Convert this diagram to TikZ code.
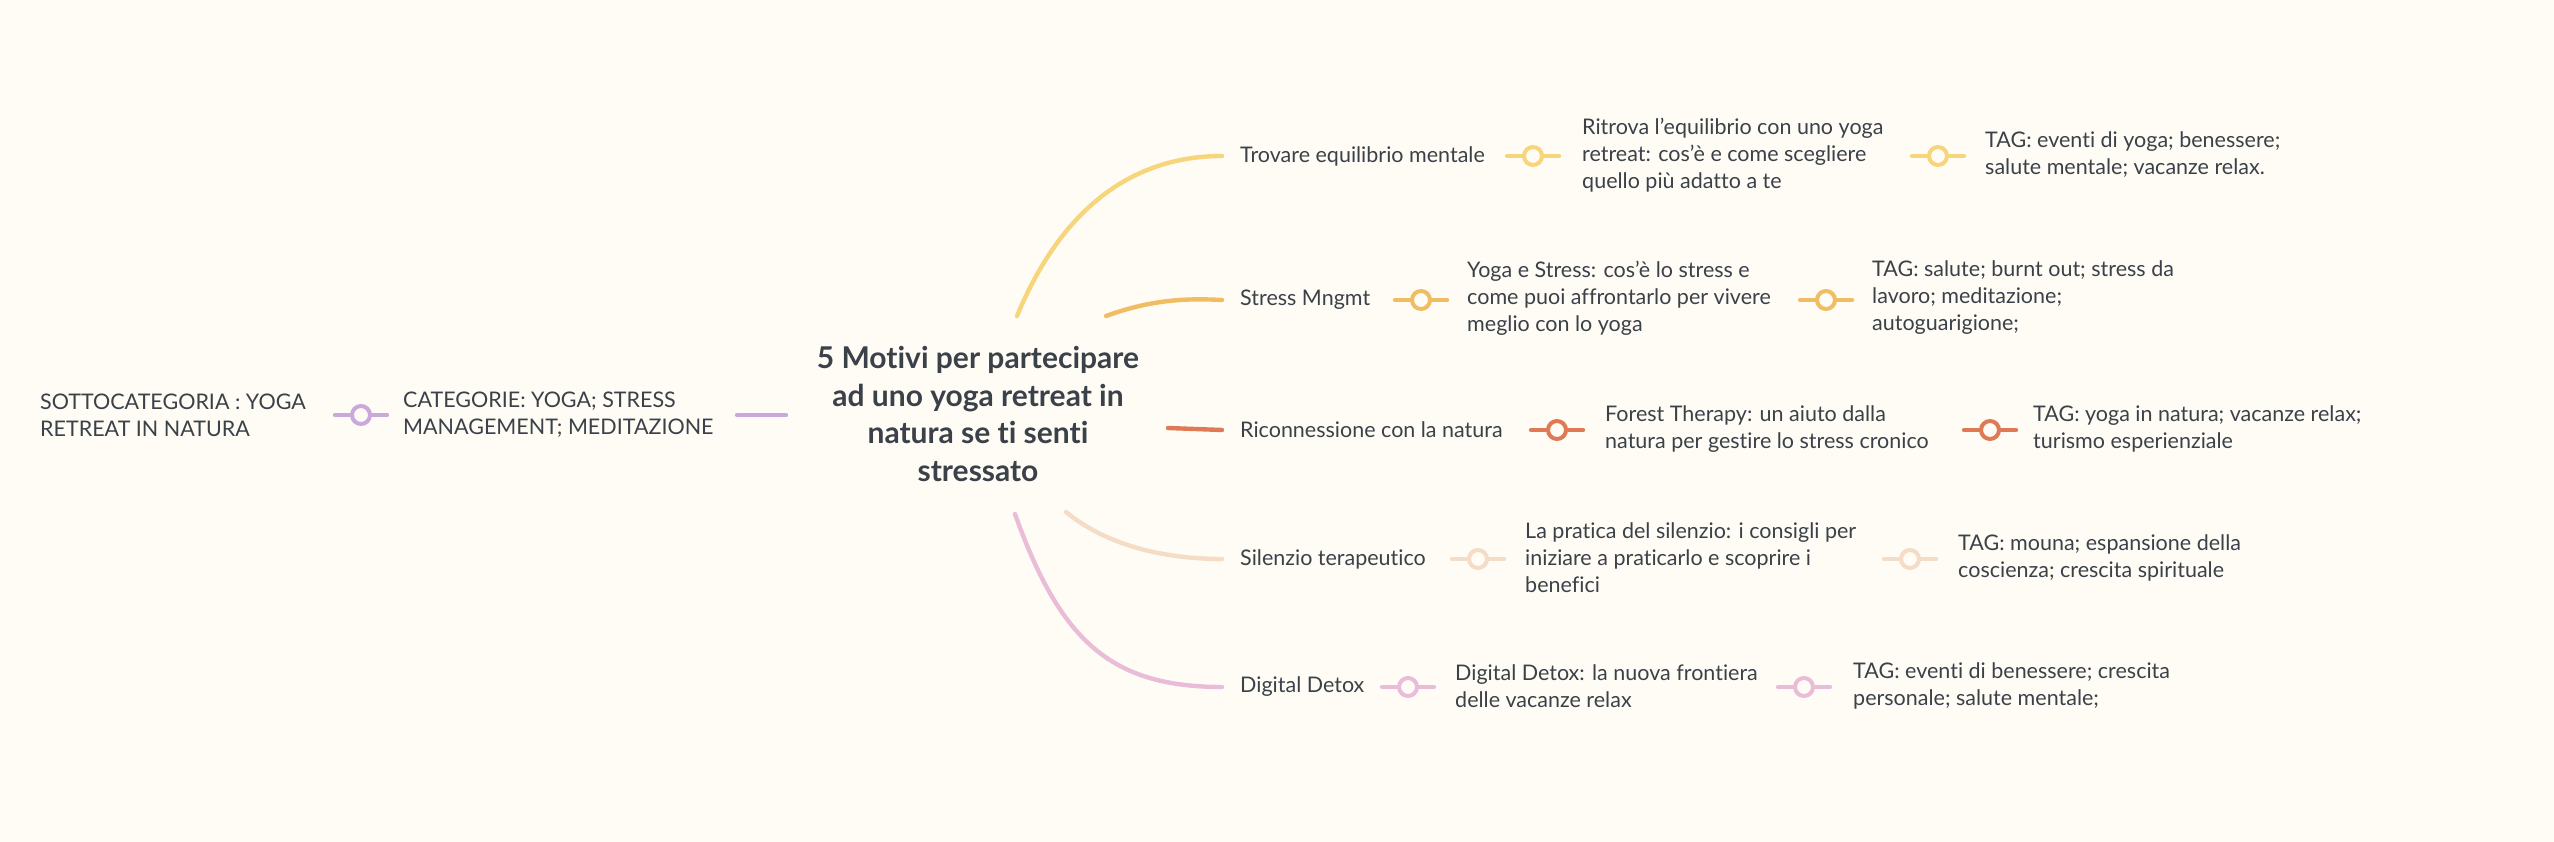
\documentclass[tikz,border=0pt]{standalone}
\usepackage{fontspec}
\setmainfont{Lato}[Ligatures=NoCommon]
\definecolor{bg}{HTML}{FFFCF5}
\definecolor{ink}{HTML}{3B4149}
\definecolor{cylw}{HTML}{F6D57C}
\definecolor{corg}{HTML}{F0BD62}
\definecolor{cred}{HTML}{DF7A56}
\definecolor{cpch}{HTML}{F4DCC6}
\definecolor{cpnk}{HTML}{E9BDD7}
\definecolor{cpur}{HTML}{CBA8DC}
\newcommand\knobat[3]{%
  \draw[stub,#2] (#3) ++(-26,0) -- ++(52,0);
  \node[knob=#2] (#1) at (#3) {};}
\begin{document}
\begin{tikzpicture}[x=1pt,y=-1pt,
  txt/.style={anchor=west, inner sep=0pt, align=left, text=ink, font=\fontsize{21.5}{27}\selectfont},
  ttl/.style={inner sep=0pt, align=center, text=ink, font=\bfseries\fontsize{30}{37.6}\selectfont},
  knob/.style={circle, draw=#1, fill=bg, line width=4pt, minimum size=18pt, inner sep=0pt},
  stub/.style={line width=4.4pt, line cap=round},
  branch/.style={line width=4.4pt, line cap=round}]
\useasboundingbox[fill=bg] (0,0) rectangle (2554,842);

% central title
\node[ttl] (title) at (978,414) {5 Motivi per partecipare\\ad uno yoga retreat in\\natura se ti senti\\stressato};

% left side
\node[txt] (sotto) at (40,415) {SOTTOCATEGORIA : YOGA\\RETREAT IN NATURA};
\knobat{kp}{cpur}{361,415}
\node[txt] (cat) at (403,415) {CATEGORIE: YOGA; STRESS\\MANAGEMENT; MEDITAZIONE};
\coordinate (pl1) at (737,415);
\coordinate (pl2) at (786,415);
\draw[branch,cpur] (pl1) -- (pl2);

% branch 1
\coordinate (s1) at (1017,316);
\node[txt] (b1) at (1240,156) {Trovare equilibrio mentale};
\draw[branch,cylw] (s1) .. controls (1065,200) and (1140,156) .. ([xshift=-18pt]b1.west);
\knobat{k11}{cylw}{1533,156}
\node[txt] (a1) at (1582,155) {Ritrova l’equilibrio con uno yoga\\retreat: cos’è e come scegliere\\quello più adatto a te};
\knobat{k12}{cylw}{1938,156}
\node[txt] (t1) at (1985,155) {TAG: eventi di yoga; benessere;\\salute mentale; vacanze relax.};

% branch 2
\coordinate (s2) at (1106,316);
\node[txt] (b2) at (1240,300) {Stress Mngmt};
\draw[branch,corg] (s2) .. controls (1150,300) and (1185,298) .. ([xshift=-18pt]b2.west);
\knobat{k21}{corg}{1421,300}
\node[txt] (a2) at (1467,298) {Yoga e Stress: cos'è lo stress e\\come puoi affrontarlo per vivere\\meglio con lo yoga};
\knobat{k22}{corg}{1826,300}
\node[txt] (t2) at (1872,298) {TAG: salute; burnt out; stress da\\lavoro; meditazione;\\autoguarigione;};

% branch 3
\coordinate (s3) at (1168,428);
\node[txt] (b3) at (1240,430) {Riconnessione con la natura};
\draw[branch,cred] (s3) -- ([xshift=-18pt]b3.west);
\knobat{k31}{cred}{1557,430}
\node[txt] (a3) at (1605,429) {Forest Therapy: un aiuto dalla\\natura per gestire lo stress cronico};
\knobat{k32}{cred}{1990,430}
\node[txt] (t3) at (2033,429) {TAG: yoga in natura; vacanze relax;\\turismo esperienziale};

% branch 4
\coordinate (s4) at (1066,512);
\node[txt] (b4) at (1240,559) {Silenzio terapeutico};
\draw[branch,cpch] (s4) .. controls (1110,548) and (1170,559) .. ([xshift=-18pt]b4.west);
\knobat{k41}{cpch}{1478,559}
\node[txt] (a4) at (1525,558) {La pratica del silenzio: i consigli per\\iniziare a praticarlo e scoprire i\\benefici};
\knobat{k42}{cpch}{1910,559}
\node[txt] (t4) at (1958,558) {TAG: mouna; espansione della\\coscienza; crescita spirituale};

% branch 5
\coordinate (s5) at (1015,514);
\node[txt] (b5) at (1240,687) {Digital Detox};
\draw[branch,cpnk] (s5) .. controls (1060,640) and (1110,687) .. ([xshift=-18pt]b5.west);
\knobat{k51}{cpnk}{1408,687}
\node[txt] (a5) at (1455,686) {Digital Detox: la nuova frontiera\\delle vacanze relax};
\knobat{k52}{cpnk}{1804,687}
\node[txt] (t5) at (1853,686) {TAG: eventi di benessere; crescita\\personale; salute mentale;};
\end{tikzpicture}
\end{document}
